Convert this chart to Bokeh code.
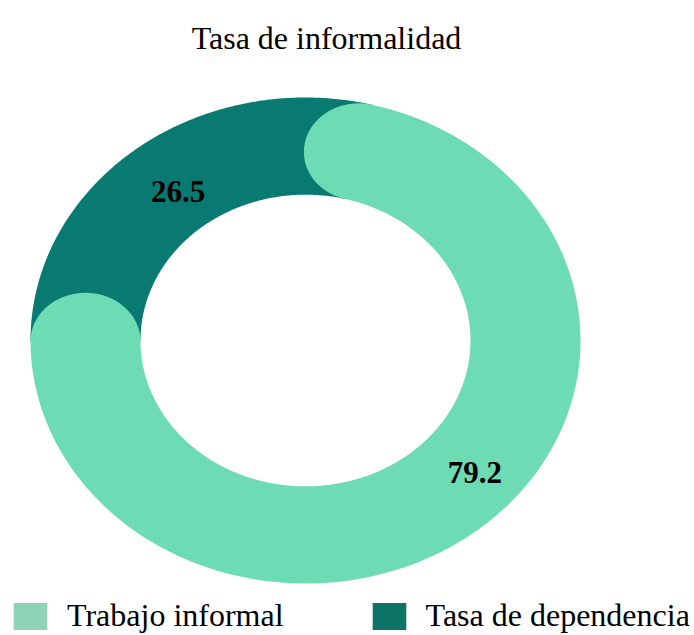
import numpy as np
from bokeh.plotting import figure
from bokeh.models import Range1d, Label, Legend, LegendItem, ColumnDataSource
from bokeh.embed import file_html
from bokeh.resources import INLINE

# ---- data ----
title_text = "Tasa de informalidad"
categories = ["Trabajo informal", "Tasa de dependencia"]
values = [79.2, 26.5]
ring_colors = ["#6DDCB4", "#087A71"]
legend_colors = ["#8FD3B6", "#0E7468"]

# ---- layout constants (pixels, canvas coords) ----
W, H = 694, 635
CX, CY = 305, 295          # ring centre, from left / from bottom
RX, RY = 275, 243          # outer radius in px (x, y)
R_OUT, R_IN = 1.0, 0.6
R_MID = (R_OUT + R_IN) / 2
CAP = (R_OUT - R_IN) / 2
START = 90.0               # degrees, clockwise drawing

p = figure(width=W, height=H, output_backend="svg", toolbar_location=None,
           x_range=Range1d(-CX / RX, (W - CX) / RX),
           y_range=Range1d(-CY / RY, (H - CY) / RY),
           min_border=0, outline_line_color=None)
p.axis.visible = False
p.grid.visible = False
p.background_fill_color = "white"
p.border_fill_color = "white"

total = sum(values)
span_light = 360.0 * values[0] / total
cap_ang = np.degrees(np.arctan2(CAP, R_MID))
a_start = np.radians(START - cap_ang)
a_end = np.radians(START - span_light)


def arc(r, a0, a1, n=200):
    t = np.linspace(a0, a1, n)
    return r * np.cos(t), r * np.sin(t)


def cap(a, beyond_sign, from_outer):
    c = np.array([R_MID * np.cos(a), R_MID * np.sin(a)])
    u = np.array([np.cos(a), np.sin(a)])
    tcw = np.array([np.sin(a), -np.cos(a)]) * beyond_sign
    phi = np.linspace(0, np.pi, 60)
    s = 1 if from_outer else -1
    pts = c[:, None] + CAP * (s * np.cos(phi)[None, :] * u[:, None] + np.sin(phi)[None, :] * tcw[:, None])
    return pts[0], pts[1]


# dark segment (plain sector underneath)
ox, oy = arc(R_OUT, a_start, a_end + 2 * np.pi)
ix, iy = arc(R_IN, a_end + 2 * np.pi, a_start)
dark_x = np.concatenate([ox, ix])
dark_y = np.concatenate([oy, iy])

# light segment with rounded caps
ox, oy = arc(R_OUT, a_start, a_end)
ex, ey = cap(a_end, 1, True)
ix, iy = arc(R_IN, a_end, a_start)
sx, sy = cap(a_start, -1, False)
light_x = np.concatenate([ox, ex, ix, sx])
light_y = np.concatenate([oy, ey, iy, sy])

p.patch(dark_x, dark_y, fill_color=ring_colors[1], line_color=None)
p.patch(light_x, light_y, fill_color=ring_colors[0], line_color=None)

# value labels
label_pos = [(-41.3, 0.82), (127.0, 0.77)]
for v, (ang, r) in zip(values, label_pos):
    a = np.radians(ang)
    p.add_layout(Label(x=r * np.cos(a), y=r * np.sin(a), text=f"{v:.1f}",
                       text_font="Liberation Serif", text_font_style="bold",
                       text_font_size="31px", text_color="black",
                       text_align="center", text_baseline="middle"))

# title
p.add_layout(Label(x=326, y=H - 37, x_units="screen", y_units="screen", text=title_text,
                   text_font="Liberation Serif", text_font_size="32px", text_color="black",
                   text_align="center", text_baseline="alphabetic"))

# legend via off-screen dummy renderers
items = []
for cat, col in zip(categories, legend_colors):
    src = ColumnDataSource(dict(left=[np.nan], right=[np.nan], top=[np.nan], bottom=[np.nan]))
    r = p.quad(left="left", right="right", top="top", bottom="bottom", source=src,
               fill_color=col, line_color=None)
    items.append(LegendItem(label=cat, renderers=[r]))

legend = Legend(items=items, orientation="horizontal", location=(9, 1),
                glyph_width=42, glyph_height=34, label_standoff=16, spacing=84,
                label_text_font="Liberation Serif", label_text_font_size="32px",
                label_text_color="black", padding=0, margin=0,
                border_line_color=None, background_fill_alpha=0)
p.add_layout(legend)

open("out.html", "w").write(file_html(p, INLINE))
